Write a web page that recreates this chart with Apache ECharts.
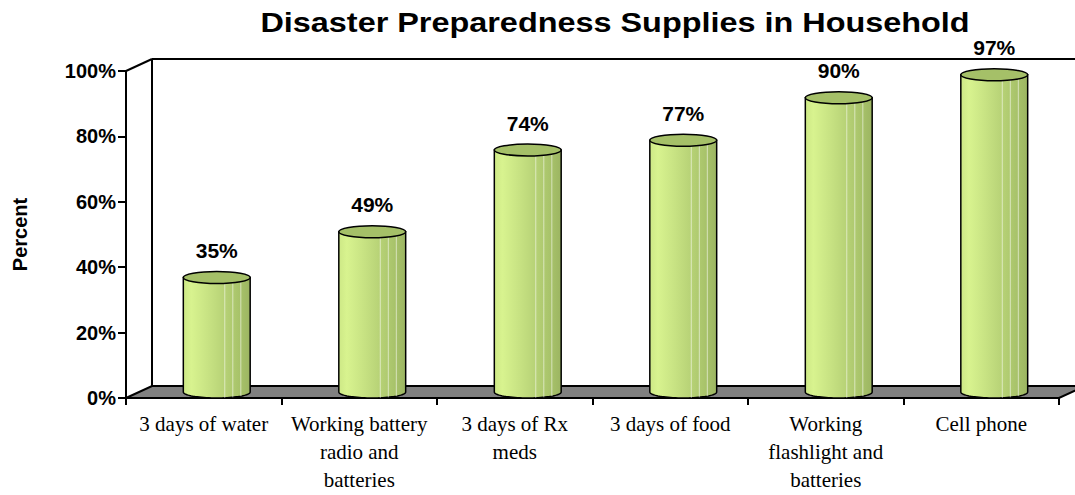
<!DOCTYPE html>
<html>
<head>
<meta charset="utf-8">
<title>Disaster Preparedness Supplies in Household</title>
<script src="https://cdn.jsdelivr.net/npm/echarts@6/dist/echarts.min.js"></script>
<style>
  html, body { margin: 0; padding: 0; background: #ffffff; }
  #chart { width: 1075px; height: 495px; }
</style>
</head>
<body>
<div id="chart"></div>
<script>
// Household supplies and the share of households that have them
const categories = [
  '3 days of water',
  'Working battery\nradio and\nbatteries',
  '3 days of Rx\nmeds',
  '3 days of food',
  'Working\nflashlight and\nbatteries',
  'Cell phone'
];
const values = [35, 49, 74, 77, 90, 97];

// Y axis range and step (tick labels are 0%, 20%, ... 100%)
const yMin = 0;
const yMax = 100;
const yStep = 20;

const chartTitle = 'Disaster Preparedness Supplies in Household';

// Oblique depth of the pseudo-3D box (pixels)
const DEPTH_X = 26;
const DEPTH_Y = 12;

const SANS = "'Liberation Sans', Arial, sans-serif";
const SERIF = "'Liberation Serif', 'Times New Roman', serif";

const chart = echarts.init(document.getElementById('chart'), null, { renderer: 'svg' });

// Floor, back wall and side-wall edges of the box
function renderFrame(params, api) {
  const cs = params.coordSys;
  const x0 = cs.x, y0 = cs.y, x1 = cs.x + cs.width, y1 = cs.y + cs.height;
  const line = { stroke: '#000', lineWidth: 2 };
  return {
    type: 'group',
    children: [
      { type: 'polygon', shape: { points: [[x0, y1], [x1, y1], [x1 + DEPTH_X, y1 - DEPTH_Y], [x0 + DEPTH_X, y1 - DEPTH_Y]] },
        style: { fill: '#808080', stroke: '#000', lineWidth: 2 } },
      { type: 'line', shape: { x1: x0 + DEPTH_X, y1: y0 - DEPTH_Y, x2: x0 + DEPTH_X, y2: y1 - DEPTH_Y }, style: line },
      { type: 'line', shape: { x1: x0 + DEPTH_X, y1: y0 - DEPTH_Y, x2: x1 + DEPTH_X, y2: y0 - DEPTH_Y }, style: line },
      { type: 'line', shape: { x1: x0, y1: y0, x2: x0 + DEPTH_X, y2: y0 - DEPTH_Y }, style: line }
    ]
  };
}

// Cylinder for one category, placed halfway into the box depth
function renderCylinder(params, api) {
  const idx = api.value(0);
  const val = api.value(1);
  const top = api.coord([idx, val]);
  const base = api.coord([idx, 0]);
  const band = api.size([1, 0])[0];
  const rx = band * 0.215;
  const ry = 6;
  const cx = top[0] + DEPTH_X / 2;
  const yTop = top[1] - DEPTH_Y / 2;
  const yBot = base[1] - DEPTH_Y / 2;
  const N = 40;

  const body = [[cx - rx, yTop], [cx - rx, yBot]];
  for (let i = 1; i < N; i++) {
    const a = Math.PI - Math.PI * i / N;
    body.push([cx + rx * Math.cos(a), yBot + ry * Math.sin(a)]);
  }
  body.push([cx + rx, yBot], [cx + rx, yTop]);

  const stripes = [0.62, 0.74, 0.86].map(f => {
    const x = cx - rx + 2 * rx * f;
    const t = (x - cx) / rx;
    return {
      type: 'line',
      shape: { x1: x, y1: yTop, x2: x, y2: yBot + ry * Math.sqrt(Math.max(0, 1 - t * t)) },
      style: { stroke: 'rgba(255,255,255,0.55)', lineWidth: 1 }
    };
  });

  return {
    type: 'group',
    children: [
      {
        type: 'polygon',
        shape: { points: body },
        style: {
          fill: new echarts.graphic.LinearGradient(0, 0, 1, 0, [
            { offset: 0, color: '#cde886' },
            { offset: 0.12, color: '#d8f38f' },
            { offset: 0.35, color: '#c9e484' },
            { offset: 0.6, color: '#b8d377' },
            { offset: 0.82, color: '#a9c46b' },
            { offset: 1, color: '#9cb562' }
          ]),
          stroke: '#000',
          lineWidth: 1.5
        }
      },
      ...stripes,
      {
        type: 'ellipse',
        shape: { cx: cx, cy: yTop, rx: rx, ry: ry },
        style: { fill: '#a5c068', stroke: '#000', lineWidth: 1.5 }
      },
      {
        type: 'text',
        style: {
          x: cx, y: yTop - 27,
          text: val + '%',
          font: 'bold 21px ' + SANS,
          fill: '#000',
          align: 'center',
          verticalAlign: 'middle'
        }
      }
    ]
  };
}

chart.setOption({
  animation: false,
  backgroundColor: '#ffffff',
  graphic: [
    {
      type: 'text',
      x: 615,
      y: 22,
      scaleX: 1.2,
      style: {
        text: chartTitle,
        font: 'bold 27px ' + SANS,
        fill: '#000',
        align: 'center',
        verticalAlign: 'middle'
      }
    }
  ],
  grid: { left: 126, right: 16, top: 71, bottom: 97, containLabel: false, outerBoundsMode: 'none' },
  xAxis: {
    type: 'category',
    data: categories,
    boundaryGap: true,
    axisLine: { lineStyle: { color: '#000', width: 2 } },
    axisTick: { show: true, length: 7, lineStyle: { color: '#000', width: 2 } },
    axisLabel: {
      interval: 0,
      margin: 12,
      fontFamily: SERIF,
      fontSize: 21,
      lineHeight: 28,
      color: '#000',
      align: 'center'
    },
    splitLine: { show: false }
  },
  yAxis: {
    type: 'value',
    min: yMin,
    max: yMax,
    interval: yStep,
    name: 'Percent',
    nameLocation: 'middle',
    nameRotate: 90,
    nameGap: 96,
    nameTextStyle: { fontFamily: SANS, fontWeight: 'bold', fontSize: 20, color: '#000' },
    axisLine: { show: true, lineStyle: { color: '#000', width: 2 } },
    axisTick: { show: true, length: 8, lineStyle: { color: '#000', width: 2 } },
    axisLabel: {
      formatter: '{value}%',
      margin: 10,
      fontFamily: SANS,
      fontWeight: 'bold',
      fontSize: 20,
      color: '#000'
    },
    splitLine: { show: false }
  },
  series: [
    {
      type: 'custom',
      name: 'frame',
      renderItem: renderFrame,
      data: [[0, 0]],
      z: 1,
      silent: true
    },
    {
      type: 'custom',
      name: 'Percent',
      renderItem: renderCylinder,
      data: values.map((v, i) => [i, v]),
      encode: { x: 0, y: 1 },
      z: 3
    }
  ]
});
</script>
</body>
</html>
